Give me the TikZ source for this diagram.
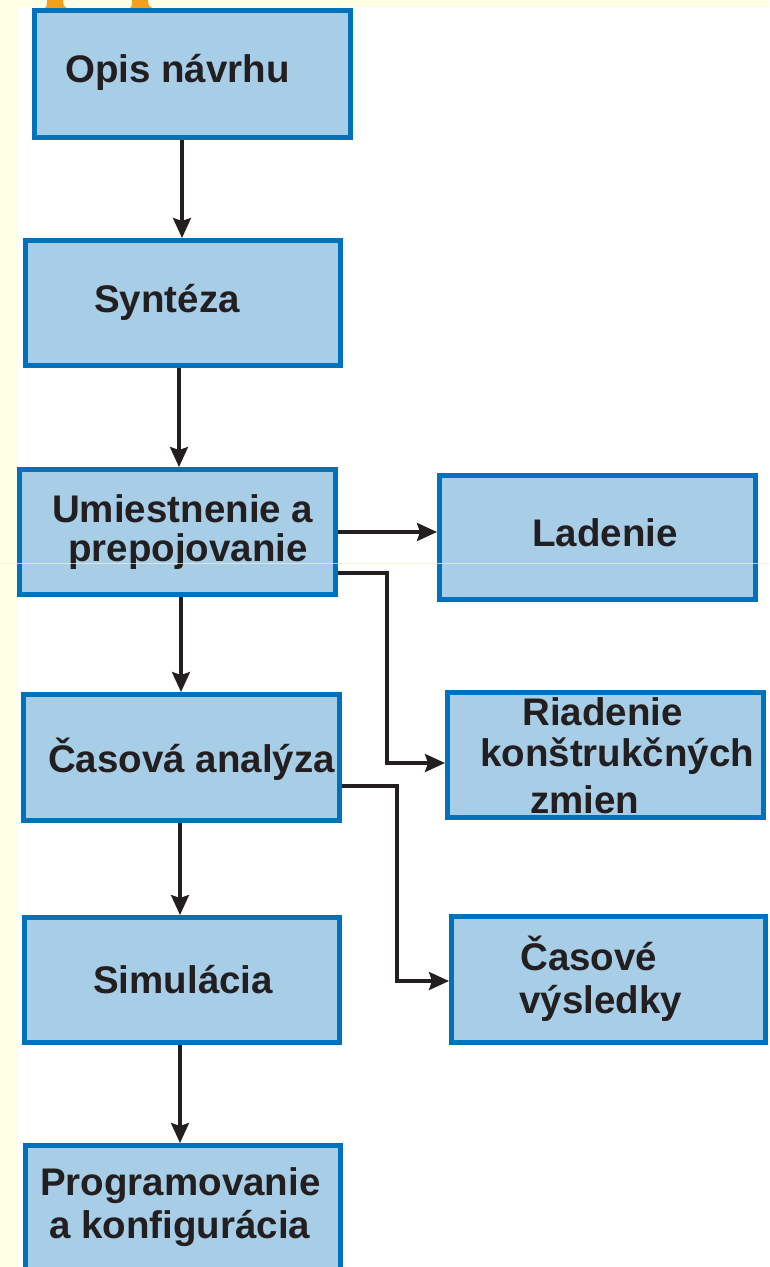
\documentclass[tikz,border=0pt]{standalone}
\usepackage{fontspec}
\setmainfont{Liberation Sans}
\usetikzlibrary{arrows.meta}
\definecolor{cream}{HTML}{FFFFE6}
\definecolor{boxfill}{HTML}{A7CDE7}
\definecolor{boxline}{HTML}{0072BC}
\definecolor{ink}{HTML}{231F20}
\definecolor{orangeb}{HTML}{F5A01A}
\definecolor{faint}{HTML}{F2F2D2}
\tikzset{
  box/.style={draw=boxline, fill=boxfill, line width=5pt, anchor=north west, inner sep=0pt},
  lbl/.style={anchor=base west, font=\fontsize{38.5}{43}\selectfont\bfseries, text=ink, inner sep=0pt},
  flowarrow/.style={draw=ink, line width=3.2pt, arrows={-Stealth[length=20pt,width=18pt,inset=3pt]}},
  bump/.style={fill=orangeb, draw=none}
}
\begin{document}
\begin{tikzpicture}[x=1pt,y=-1pt]
\useasboundingbox (0,0) rectangle (769,1267);
\clip (0,0) rectangle (769,1267);
\fill[cream] (0,0) rectangle (769,1267);
\fill[white] (17,7) rectangle (769,1267);

% orange bumps at top
\fill[bump] (47,0) -- (63,0) -- (63,3) .. controls (64,8) and (68,8) .. (70,10) -- (42,10) .. controls (44,8) and (47,8) .. (47,3) -- cycle;
\fill[bump] (132,0) -- (148,0) -- (148,3) .. controls (149,8) and (154,8) .. (156,10) -- (127,10) .. controls (129,8) and (132,8) .. (132,3) -- cycle;

% boxes (positions are outer north-west corners)
\node[box, minimum width=315.5pt, minimum height=127pt] (b1) at (32,8) {};
\node[box, minimum width=315pt, minimum height=125pt] (b2) at (23,238) {};
\node[box, minimum width=316pt, minimum height=125pt] (b3) at (17,467) {};
\node[box, minimum width=316pt, minimum height=124pt] (b4) at (437,473) {};
\node[box, minimum width=316pt, minimum height=126pt] (b5) at (21,692) {};
\node[box, minimum width=315.5pt, minimum height=125pt] (b6) at (445,690) {};
\node[box, minimum width=315pt, minimum height=125pt] (b7) at (22,915) {};
\node[box, minimum width=314pt, minimum height=126pt] (b8) at (449,914) {};
\node[box, minimum width=315.5pt, minimum height=129.5pt] (b9) at (22.5,1143) {};

% labels
\node[lbl] (t1) at (65,82) {Opis návrhu};
\node[lbl] (t2) at (94,312) {Syntéza};
\node[lbl] (t3a) at (52,522) {Umiestnenie a};
\node[lbl] (t3b) at (68,561) {prepojovanie};
\node[lbl] (t4) at (532,546) {Ladenie};
\node[lbl] (t5) at (48,772) {Časová analýza};
\node[lbl] (t6a) at (522,725) {Riadenie};
\node[lbl] (t6b) at (480,766) {konštrukčných};
\node[lbl] (t6c) at (530,813) {zmien};
\node[lbl] (t7) at (93,993) {Simulácia};
\node[lbl] (t8a) at (520,970) {Časové};
\node[lbl] (t8b) at (519,1013) {výsledky};
\node[lbl] (t9a) at (40,1195) {Programovanie};
\node[lbl] (t9b) at (49,1238) {a konfigurácia};

% guide coordinates
\coordinate (x1) at (182,0);
\coordinate (x2) at (179,0);
\coordinate (x3) at (181,0);
\coordinate (x4) at (180,0);
\coordinate (c1) at (387,573);
\coordinate (c2) at (387,763);
\coordinate (c3) at (397,786);
\coordinate (c4) at (397,981);

% vertical arrows
\draw[flowarrow] (b1.south -| x1) -- (b2.north -| x1);
\draw[flowarrow] (b2.south -| x2) -- (b3.north -| x2);
\draw[flowarrow] (b3.south -| x3) -- (b5.north -| x3);
\draw[flowarrow] (b5.south -| x4) -- (b7.north -| x4);
\draw[flowarrow] (b7.south -| x4) -- (b9.north -| x4);

% side arrows
\draw[flowarrow] (b3.east) -- (b3.east -| b4.west);
\draw[flowarrow] (b3.east |- c1) -- (c1) -- (c2) -- (c2 -| b6.west);
\draw[flowarrow] (b5.east |- c3) -- (c3) -- (c4) -- (c4 -| b8.west);

% faint scan line
\draw[faint, line width=1pt, opacity=0.7] (0,563) -- (769,563);
\end{tikzpicture}
\end{document}
